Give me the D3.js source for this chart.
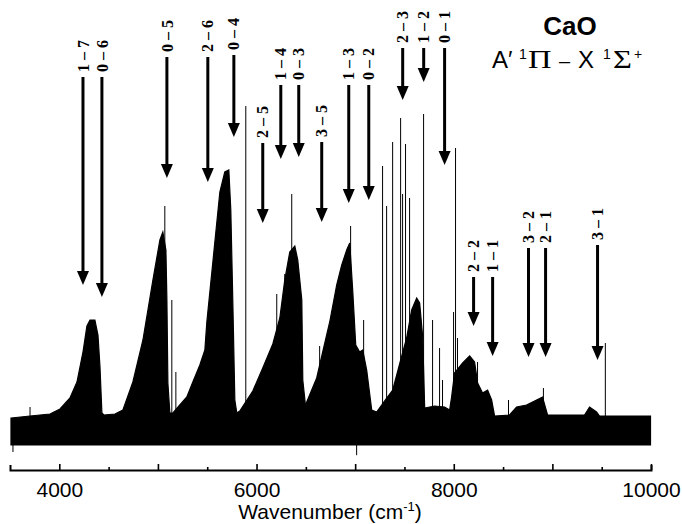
<!DOCTYPE html>
<html>
<head>
<meta charset="utf-8">
<script src="https://cdn.jsdelivr.net/npm/d3@7"></script>
<style>
  body { margin: 0; background: #fff; }
</style>
</head>
<body>
<div id="chart"></div>
<script>
// upper edge of the spectrum envelope (cm-1, arb. intensity)
var envWave = [3510, 3703, 3905, 4007, 4108, 4179, 4240, 4280, 4311, 4361, 4392, 4412, 4432, 4452,
  4564, 4645, 4746, 4848, 4949, 5020, 5050, 5081, 5091, 5101, 5121, 5152, 5222, 5293, 5354, 5425,
  5476, 5496, 5557, 5628, 5678, 5719, 5739, 5759, 5780, 5800, 5830, 5962, 6063, 6165, 6236, 6286,
  6337, 6388, 6418, 6459, 6469, 6499, 6509, 6610, 6671, 6742, 6813, 6864, 6914, 6945, 6975, 7006,
  7046, 7077, 7117, 7168, 7218, 7320, 7381, 7451, 7522, 7573, 7624, 7654, 7685, 7705, 7806, 7907,
  7958, 7978, 8008, 8090, 8161, 8211, 8242, 8292, 8343, 8384, 8414, 8566, 8637, 8738, 8840, 8900,
  8951, 9326, 9377, 9448, 9478, 9995];
var envInt = [7, 7.5, 8, 9.25, 12, 16, 23.5, 30, 31.5, 31.5, 27.75, 20, 8.25, 7.75,
  8, 9, 16, 26.5, 41.5, 51.5, 53.5, 49, 36.5, 15.75, 8.25, 8.25, 10.25, 12.25, 16, 20.25,
  24, 31, 46, 63.5, 68.5, 69, 59, 36.5, 11.5, 8.25, 8.75, 13.75, 19.5, 25.5, 32, 41.5,
  48.5, 50, 46.5, 36.5, 16.5, 9.5, 11, 17, 23.5, 31, 40.25, 45.25, 49, 50.75, 39, 25.25,
  23.5, 24, 19, 9, 8.5, 12, 14, 20.5, 27, 34, 37, 35.75, 27.25, 9.5, 10, 9.75,
  9, 12.25, 18.25, 20.75, 22.5, 21, 15.75, 13.25, 14, 11.5, 7.5, 7.75, 9.75, 10.25, 11.5, 12.25,
  7.75, 7.75, 9.75, 8.5, 7.5, 7.5];
var floorInt = 0.25;

// sharp lines standing above the bands
var lineWave = [3703, 5070, 5141, 5182, 5891, 6205, 6286, 6357, 6640, 6954, 7086, 7278, 7319, 7380,
  7461, 7481, 7511, 7552, 7694, 7785, 7856, 7886, 7998, 8018, 8038, 8241, 8555, 8909, 9537];
var lineInt = [9.75, 60, 36.5, 18.5, 85, 38, 43, 63, 25, 55, 31.5, 70, 60, 76,
  82, 63, 75.5, 62, 83, 31.5, 24.5, 16.5, 33.5, 74.5, 27, 21, 11.5, 14.5, 25.75];
var dipWave = [3530, 7015];
var dipInt = [-1.5, -2.3];

// band assignments (v'-v")
var bandLabels = ['1 – 7', '0 – 6', '0 – 5', '2 – 6', '0 – 4', '2 – 5', '1 – 4', '0 – 3', '3 – 5', '1 – 3',
  '0 – 2', '2 – 3', '1 – 2', '0 – 1', '2 – 2', '1 – 1', '3 – 2', '2 – 1', '3 – 1'];
var bandWave = [4240, 4432, 5091, 5506, 5770, 6063, 6246, 6428, 6661, 6935,
  7138, 7482, 7695, 7907, 8201, 8394, 8758, 8931, 9458];
var labelLevel = [93.5, 93.5, 98.5, 98.5, 99, 77, 91.5, 91.5, 77.25, 91.5,
  91.5, 100.75, 100.75, 100.75, 43.5, 43.5, 50.75, 50.75, 51.5];
var tipLevel = [40.25, 37.25, 67, 66, 77.25, 55.75, 71.75, 72.25, 56, 60.75,
  61.5, 86.5, 91, 70.25, 30, 22.5, 22.25, 22.25, 21.5];

var majorTicks = [4000, 5000, 6000, 7000, 8000, 9000, 10000];
var minorTicks = [4500, 5500, 6500, 7500, 8500, 9500];
var tickLabels = [4000, 6000, 8000, 10000];

var svg = d3.select('#chart').append('svg')
    .attr('width', 682)
    .attr('height', 524);

var x = d3.scaleLinear().domain([3500, 10000]).range([10, 651]),
  y = d3.scaleLinear().domain([0, 100]).range([446, 46]);

var env = envWave.map(function (w, i) { return {w: w, v: envInt[i]}; });

var area = d3.area()
  .x(function (d) { return x(d.w); })
  .y0(y(floorInt))
  .y1(function (d) { return y(d.v); });

svg.append('path')
  .datum(env)
  .attr('d', area)
  .attr('fill', '#000')
  .attr('stroke', '#000')
  .attr('stroke-width', 1.2);

svg.selectAll('.spike')
  .data(lineWave)
  .enter().append('line')
  .attr('class', 'spike')
  .attr('x1', function (d) { return x(d); })
  .attr('x2', function (d) { return x(d); })
  .attr('y1', y(floorInt))
  .attr('y2', function (d, i) { return y(lineInt[i]); })
  .attr('stroke', '#000')
  .attr('stroke-width', 1);

svg.selectAll('.dip')
  .data(dipWave)
  .enter().append('line')
  .attr('class', 'dip')
  .attr('x1', function (d) { return x(d); })
  .attr('x2', function (d) { return x(d); })
  .attr('y1', y(floorInt))
  .attr('y2', function (d, i) { return y(dipInt[i]); })
  .attr('stroke', '#000')
  .attr('stroke-width', 1);

// x axis, ticks point up into the plot
var axisY = 470;
var xAxis = svg.append('g')
  .attr('transform', 'translate(0,' + axisY + ')')
  .call(d3.axisBottom(x)
    .tickValues(majorTicks)
    .tickSizeInner(-6)
    .tickSizeOuter(-5)
    .tickPadding(12)
    .tickFormat(function (d) { return tickLabels.indexOf(d) >= 0 ? d : ''; }));

xAxis.select('.domain').attr('stroke-width', 2);
xAxis.selectAll('.tick line').attr('stroke-width', 1.6);
xAxis.selectAll('text')
  .style('font-family', '"Liberation Sans", Arial, sans-serif')
  .style('font-size', '21px')
  .attr('fill', '#000');

svg.append('g')
  .attr('transform', 'translate(0,' + axisY + ')')
  .call(d3.axisBottom(x).tickValues(minorTicks).tickSize(-3).tickFormat(''))
  .call(function (g) { g.select('.domain').remove(); })
  .selectAll('line').attr('stroke-width', 1.6);

var xTitle = svg.append('text')
  .attr('x', 330)
  .attr('y', 519)
  .attr('text-anchor', 'middle')
  .style('font-family', '"Liberation Sans", Arial, sans-serif')
  .style('font-size', '21px');
xTitle.append('tspan').text('Wavenumber (cm');
xTitle.append('tspan').attr('dy', -8).style('font-size', '13px').text('-1');
xTitle.append('tspan').attr('dy', 8).text(')');

// band arrows with rotated labels
var bands = svg.selectAll('.band')
  .data(bandLabels)
  .enter().append('g')
  .attr('class', 'band')
  .attr('transform', function (d, i) { return 'translate(' + x(bandWave[i]) + ',0)'; });

bands.append('text')
  .attr('transform', function (d, i) { return 'translate(0,' + y(labelLevel[i]) + ') rotate(-90)'; })
  .attr('dy', '0.35em')
  .style('font-family', '"Liberation Serif", "Times New Roman", serif')
  .style('font-weight', 'bold')
  .style('font-size', '16px')
  .text(function (d) { return d; });

bands.append('line')
  .attr('y1', function (d, i) { return y(labelLevel[i]) + 5; })
  .attr('y2', function (d, i) { return y(tipLevel[i]) - 10; })
  .attr('stroke', '#000')
  .attr('stroke-width', 3);

bands.append('path')
  .attr('d', function (d, i) {
    var t = y(tipLevel[i]);
    return 'M-6,' + (t - 14) + 'L6,' + (t - 14) + 'L0,' + t + 'Z';
  })
  .attr('fill', '#000');

// molecule and transition
var sans = '"Liberation Sans", Arial, sans-serif',
  serif = '"Liberation Serif", "Times New Roman", serif';

svg.append('text')
  .attr('x', 570)
  .attr('y', 35)
  .attr('text-anchor', 'middle')
  .style('font-family', sans)
  .style('font-weight', 'bold')
  .style('font-size', '26px')
  .text('CaO');

var tr = svg.append('g').attr('transform', 'translate(0,68)');

function piece(txt, px, font, size, dy, sx) {
  tr.append('text')
    .attr('transform', 'translate(' + px + ',' + dy + ') scale(' + sx + ',1)')
    .style('font-family', font)
    .style('font-size', size + 'px')
    .text(txt);
}

piece('A\u2032', 492, sans, 24, 0, 1);
piece('1', 519, sans, 14, -9, 1);
piece('\u03A0', 528, serif, 25, 0, 1.3);
piece('\u2013', 559, sans, 20, 0, 1);
piece('X', 578, sans, 24, 0, 1);
piece('1', 603, sans, 14, -9, 1);
piece('\u03A3', 613, serif, 25, 0, 1.3);
piece('+', 634, sans, 14, -9, 1);
</script>
</body>
</html>
